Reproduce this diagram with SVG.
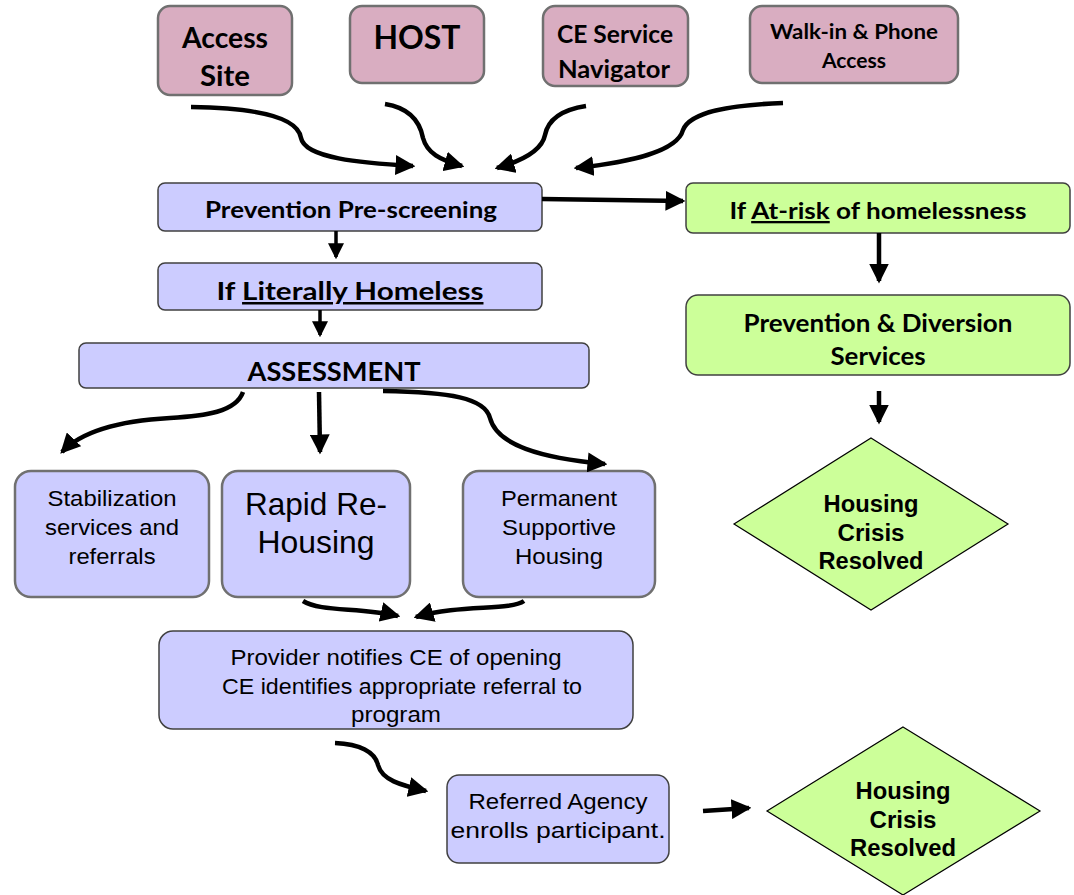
<svg xmlns="http://www.w3.org/2000/svg" width="1074" height="895" viewBox="0 0 1074 895">
<style>
.pink{fill:#d9adc1;stroke:#707070;stroke-width:2.5}
.lav{fill:#ccccff;stroke:#404040;stroke-width:1.5}
.lav2{fill:#ccccff;stroke:#707070;stroke-width:2.5}
.grn{fill:#ccff99;stroke:#404040;stroke-width:1.5}
.dia{fill:#ccff99;stroke:#000;stroke-width:1.2}
.cal{font-family:Lato,"Open Sans","Liberation Sans",sans-serif;font-weight:bold;fill:#000;text-anchor:middle}
.ar{font-family:"Liberation Sans",Arial,sans-serif;fill:#000;text-anchor:middle}
.arb{font-family:"Liberation Sans",Arial,sans-serif;font-weight:bold;fill:#000;text-anchor:middle}
.u{text-decoration:underline}
.c{fill:none;stroke:#000;stroke-width:4.5}
.s{fill:none;stroke:#000;stroke-width:3.5}
</style>
<defs>
<marker id="ah" markerUnits="userSpaceOnUse" markerWidth="20" markerHeight="20" refX="14" refY="8" orient="auto" viewBox="0 0 16 16">
<path d="M0,0 L16,8 L0,16 Z" fill="#000"/>
</marker>
<marker id="ahs" markerUnits="userSpaceOnUse" markerWidth="16" markerHeight="16" refX="12" refY="7" orient="auto" viewBox="0 0 14 14">
<path d="M0,0 L14,7 L0,14 Z" fill="#000"/>
</marker>
</defs>

<g id="access-site"><rect class="pink" x="158" y="6" width="134" height="89" rx="12"/>
<text class="cal" font-size="28" x="225" y="48" textLength="86" lengthAdjust="spacingAndGlyphs">Access</text>
<text class="cal" font-size="28" x="225" y="86" textLength="50" lengthAdjust="spacingAndGlyphs">Site</text></g>
<g id="host"><rect class="pink" x="350" y="6" width="134" height="77" rx="12"/>
<text class="cal" x="417" y="49" font-size="32" textLength="87" lengthAdjust="spacingAndGlyphs">HOST</text></g>
<g id="ce-navigator"><rect class="pink" x="543" y="6" width="145" height="80" rx="12"/>
<text class="cal" font-size="24" x="615" y="43" textLength="116" lengthAdjust="spacingAndGlyphs">CE Service</text>
<text class="cal" font-size="24" x="614" y="78" textLength="112" lengthAdjust="spacingAndGlyphs">Navigator</text></g>
<g id="walk-in"><rect class="pink" x="750" y="6" width="208" height="77" rx="12"/>
<text class="cal" font-size="20" x="854" y="39" textLength="168" lengthAdjust="spacingAndGlyphs">Walk-in &amp; Phone</text>
<text class="cal" font-size="20" x="854" y="68" textLength="64" lengthAdjust="spacingAndGlyphs">Access</text></g>

<g id="pre-screening"><rect class="lav" x="158" y="183" width="384" height="48" rx="7"/>
<text class="cal" x="351" y="218" font-size="23" textLength="292" lengthAdjust="spacingAndGlyphs">Prevention Pre-screening</text></g>
<g id="at-risk"><rect class="grn" x="686" y="183" width="384" height="50" rx="7"/>
<text class="cal" x="878" y="219" font-size="23" textLength="297" lengthAdjust="spacingAndGlyphs">If <tspan class="u">At-risk</tspan> of homelessness</text></g>
<g id="literally-homeless"><rect class="lav" x="158" y="263" width="384" height="47" rx="7"/>
<text class="cal" x="350" y="300" font-size="25" textLength="267" lengthAdjust="spacingAndGlyphs">If <tspan class="u">Literally Homeless</tspan></text></g>
<g id="assessment"><rect class="lav" x="79" y="343" width="510" height="45" rx="7"/>
<text class="cal" x="334" y="381" font-size="26" textLength="173" lengthAdjust="spacingAndGlyphs">ASSESSMENT</text></g>
<g id="prevention-diversion"><rect class="grn" x="686" y="295" width="384" height="80" rx="12"/>
<text class="cal" font-size="24" x="878" y="332" textLength="269" lengthAdjust="spacingAndGlyphs">Prevention &amp; Diversion</text>
<text class="cal" font-size="24" x="878" y="365" textLength="95" lengthAdjust="spacingAndGlyphs">Services</text></g>
<g id="resolved-1"><polygon class="dia" points="871,438 1008,524 871,610 734,524"/>
<text class="arb" font-size="23" x="871" y="512" textLength="95" lengthAdjust="spacingAndGlyphs">Housing</text>
<text class="arb" font-size="23" x="871" y="541" textLength="67" lengthAdjust="spacingAndGlyphs">Crisis</text>
<text class="arb" font-size="23" x="871" y="569" textLength="105" lengthAdjust="spacingAndGlyphs">Resolved</text></g>

<g id="stabilization"><rect class="lav2" x="15" y="471" width="194" height="126" rx="16"/>
<text class="ar" font-size="22" x="112" y="506" textLength="129" lengthAdjust="spacingAndGlyphs">Stabilization</text>
<text class="ar" font-size="22" x="112" y="535" textLength="134" lengthAdjust="spacingAndGlyphs">services and</text>
<text class="ar" font-size="22" x="112" y="564" textLength="87" lengthAdjust="spacingAndGlyphs">referrals</text></g>
<g id="rapid-rehousing"><rect class="lav2" x="222" y="471" width="188" height="126" rx="16"/>
<text class="ar" font-size="32" x="316" y="515" textLength="142" lengthAdjust="spacingAndGlyphs">Rapid Re-</text>
<text class="ar" font-size="32" x="316" y="553" textLength="117" lengthAdjust="spacingAndGlyphs">Housing</text></g>
<g id="psh"><rect class="lav2" x="463" y="471" width="192" height="126" rx="16"/>
<text class="ar" font-size="22" x="559" y="506" textLength="116" lengthAdjust="spacingAndGlyphs">Permanent</text>
<text class="ar" font-size="22" x="559" y="535" textLength="114" lengthAdjust="spacingAndGlyphs">Supportive</text>
<text class="ar" font-size="22" x="559" y="564" textLength="88" lengthAdjust="spacingAndGlyphs">Housing</text></g>

<g id="provider"><rect class="lav" x="159" y="631" width="474" height="98" rx="14"/>
<text class="ar" font-size="22" x="396" y="665" textLength="331" lengthAdjust="spacingAndGlyphs">Provider notifies CE of opening</text>
<text class="ar" font-size="22" x="402" y="694" textLength="360" lengthAdjust="spacingAndGlyphs">CE identifies appropriate referral to</text>
<text class="ar" font-size="22" x="396" y="722" textLength="90" lengthAdjust="spacingAndGlyphs">program</text></g>
<g id="referred-agency"><rect class="lav" x="447" y="775" width="222" height="88" rx="12"/>
<text class="ar" font-size="22" x="558" y="809" textLength="179" lengthAdjust="spacingAndGlyphs">Referred Agency</text>
<text class="ar" font-size="22" x="558" y="838" textLength="215" lengthAdjust="spacingAndGlyphs">enrolls participant.</text></g>
<g id="resolved-2"><polygon class="dia" points="903,727 1040,811 903,895 767,811"/>
<text class="arb" font-size="23" x="903" y="799" textLength="95" lengthAdjust="spacingAndGlyphs">Housing</text>
<text class="arb" font-size="23" x="903" y="828" textLength="67" lengthAdjust="spacingAndGlyphs">Crisis</text>
<text class="arb" font-size="23" x="903" y="856" textLength="106" lengthAdjust="spacingAndGlyphs">Resolved</text></g>

<g id="connectors">
<path class="c" marker-end="url(#ah)" d="M191,107 C260,108 298,118 301,138 C305,158 360,163 413,166"/>
<path class="c" marker-end="url(#ah)" d="M385,104 C410,108 420,122 423,138 C427,153 440,160 462,166"/>
<path class="c" marker-end="url(#ah)" d="M586,106 C560,110 548,120 545,135 C542,150 525,160 497,168"/>
<path class="c" marker-end="url(#ah)" d="M783,103 C730,105 690,112 683,130 C677,152 630,162 576,168"/>
<path class="c" marker-end="url(#ah)" d="M542,199 L683,201"/>
<path class="s" marker-end="url(#ahs)" d="M336,231 L336,257"/>
<path class="s" marker-end="url(#ahs)" d="M320,310 L320,335"/>
<path class="c" marker-end="url(#ah)" d="M879,233 L879,281"/>
<path class="c" marker-end="url(#ah)" d="M879,391 L879,422"/>
<path class="c" marker-end="url(#ah)" d="M243,392 C236,412 205,416 170,418 C115,421 80,433 62,452"/>
<path class="c" marker-end="url(#ah)" d="M319,392 L320,452"/>
<path class="c" marker-end="url(#ah)" d="M383,391 C450,392 485,398 490,418 C497,445 540,458 605,464"/>
<path class="c" marker-end="url(#ah)" d="M303,601 C320,612 360,607 398,616"/>
<path class="c" marker-end="url(#ah)" d="M524,601 C510,611 460,604 416,617"/>
<path class="c" marker-end="url(#ah)" d="M335,743 C360,744 375,752 378,765 C382,780 400,785 426,791"/>
<path class="c" marker-end="url(#ah)" d="M703,811 L749,808"/>
</g>
</svg>
